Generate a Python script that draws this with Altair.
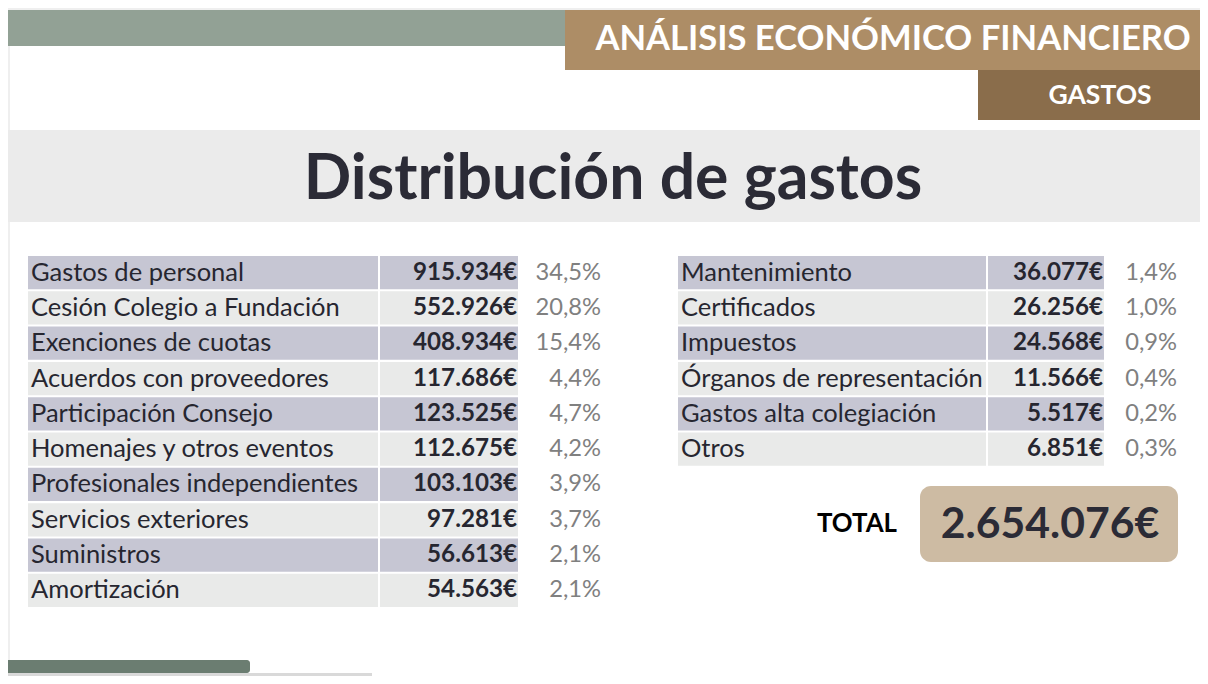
import altair as alt
import pandas as pd

# ---------------- data ----------------
left_names = [
    "Gastos de personal",
    "Cesión Colegio a Fundación",
    "Exenciones de cuotas",
    "Acuerdos con proveedores",
    "Participación Consejo",
    "Homenajes y otros eventos",
    "Profesionales independientes",
    "Servicios exteriores",
    "Suministros",
    "Amortización",
]
left_values = [915934, 552926, 408934, 117686, 123525, 112675, 103103, 97281, 56613, 54563]
left_pcts = [34.5, 20.8, 15.4, 4.4, 4.7, 4.2, 3.9, 3.7, 2.1, 2.1]

right_names = [
    "Mantenimiento",
    "Certificados",
    "Impuestos",
    "Órganos de representación",
    "Gastos alta colegiación",
    "Otros",
]
right_values = [36077, 26256, 24568, 11566, 5517, 6851]
right_pcts = [1.4, 1.0, 0.9, 0.4, 0.2, 0.3]

total_value = 2654076
header_title = "ANÁLISIS ECONÓMICO FINANCIERO"
header_sub = "GASTOS"
chart_title = "Distribución de gastos"
total_label = "TOTAL"


def eur(v):
    return f"{v:,}".replace(",", ".") + "€"


def pct(p):
    return f"{p:.1f}".replace(".", ",") + "%"


def table_df(names, values, pcts):
    return pd.DataFrame({
        "row": list(range(len(names))),
        "name": names,
        "value": [eur(v) for v in values],
        "pct": [pct(p) for p in pcts],
        "shade": ["dark" if i % 2 == 0 else "light" for i in range(len(names))],
    })


left_df = table_df(left_names, left_values, left_pcts)
right_df = table_df(right_names, right_values, right_pcts)

# ---------------- styles / layout ----------------
FONT = "Lato"
W, H = 1192, 668
TXT = "#262630"

Y = alt.Y("row:O", axis=None,
          scale=alt.Scale(domain=list(range(10)), range=[248, 599],
                          paddingInner=0.06, paddingOuter=0))
SHADE = alt.Color("shade:N", legend=None,
                  scale=alt.Scale(domain=["dark", "light"], range=["#c6c6d3", "#e9eae9"]))

one = alt.Data(values=[{"k": 1}])


def box(x, x2, y, y2, color, **kw):
    return alt.Chart(one).mark_rect(color=color, **kw).encode(
        x=alt.value(x), x2=alt.value(x2), y=alt.value(y), y2=alt.value(y2))


def label(text, x, y, **kw):
    return alt.Chart(one).mark_text(text=text, font=FONT, baseline="middle", **kw).encode(
        x=alt.value(x), y=alt.value(y))


def table(df, lx, lx2, vx2, px):
    base = alt.Chart(df)
    return [
        base.mark_rect().encode(x=alt.value(lx), x2=alt.value(lx2), y=Y, color=SHADE),
        base.mark_rect().encode(x=alt.value(lx2 + 2), x2=alt.value(vx2), y=Y, color=SHADE),
        base.mark_text(align="left", baseline="middle", font=FONT, fontSize=25.5,
                       color=TXT).encode(x=alt.value(lx + 3), y=Y, text="name:N"),
        base.mark_text(align="right", baseline="middle", font=FONT, fontSize=24.2,
                       fontWeight="bold", color=TXT).encode(x=alt.value(vx2 - 1), y=Y, text="value:N"),
        base.mark_text(align="right", baseline="middle", font=FONT, fontSize=23.7,
                       color="#808080").encode(x=alt.value(px), y=Y, text="pct:N"),
    ]


layers = [
    # slide border
    box(0, W, 0, 2, "#efefef"),
    box(0, 2, 0, H, "#efefef"),
    # header
    box(0, 557, 2, 38, "#92a195"),
    box(557, W, 2, 62, "#ad8d66"),
    label(header_title, 885, 32, align="center", fontSize=34.6, fontWeight="bold", color="white"),
    box(970, W, 62, 112, "#8a6d4b"),
    label(header_sub, 1092, 88, align="center", fontSize=26.5, fontWeight="bold", color="white"),
    # title band
    box(0, W, 122, 214, "#ebebeb"),
    label(chart_title, 605, 172, align="center", fontSize=62.5, fontWeight="bold", color="#2b2b36"),
]
layers += table(left_df, 20, 370, 510, 593)
layers += table(right_df, 670, 978, 1096, 1169)
layers += [
    label(total_label, 849, 516, align="center", fontSize=25.8, fontWeight="bold", color="black"),
    box(912, 1170, 478, 554, "#cdbba3", cornerRadius=11),
    label(eur(total_value), 1042, 517, align="center", fontSize=42.7, fontWeight="bold", color="#2b2b36"),
    # footer bars
    box(0, 242, 652, 665, "#6b7d71", cornerRadiusTopRight=3, cornerRadiusBottomRight=3),
    box(0, 364, 665, H, "#d9d9d9"),
]

chart = alt.layer(*layers).properties(
    width=W, height=H, padding=0, autosize="none", background="white"
).configure_view(stroke=None)

chart.save("out.html", embed_options={"renderer": "svg", "actions": False})
